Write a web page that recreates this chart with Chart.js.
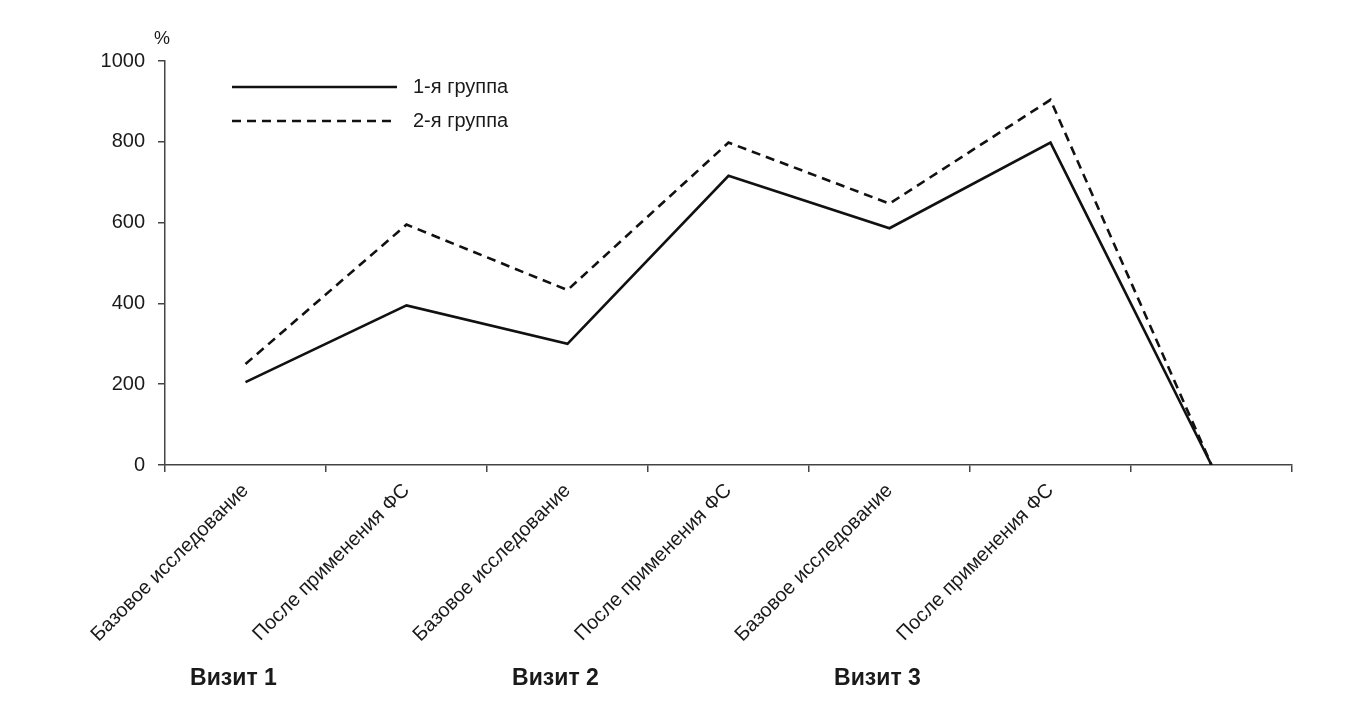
<!DOCTYPE html>
<html>
<head>
<meta charset="utf-8">
<script src="https://cdn.jsdelivr.net/npm/chart.js@4"></script>
<style>
  html, body { margin: 0; padding: 0; background: #fff; }
  #wrap { width: 1370px; height: 715px; }
</style>
</head>
<body>
<div id="wrap"><canvas id="chart"></canvas></div>
<script>
const categories = [
    "Базовое исследование",
    "После применения ФС",
    "Базовое исследование",
    "После применения ФС",
    "Базовое исследование",
    "После применения ФС",
    "",
];
const group1 = [205, 395, 300, 716, 586, 798, 0];
const group2 = [250, 595, 433, 798, 647, 904, 0];
const seriesNames = ["1-я группа", "2-я группа"];
const visits = ["Визит 1", "Визит 2", "Визит 3"];
const yTicks = [0, 200, 400, 600, 800, 1000];

const FONT = "'Liberation Sans', Arial, sans-serif";
const INK = "#1a1a1a";

// legend drawn inside the plot, top-left
const insideLegend = {
    id: "insideLegend",
    afterDatasetsDraw(chart) {
        const { ctx, chartArea } = chart;
        ctx.save();
        chart.data.datasets.forEach((ds, i) => {
            const y = chartArea.top + 26 + i * 34;
            const x0 = chartArea.left + 67;
            ctx.strokeStyle = ds.borderColor;
            ctx.lineWidth = ds.borderWidth;
            ctx.setLineDash(ds.borderDash || []);
            ctx.beginPath();
            ctx.moveTo(x0, y);
            ctx.lineTo(x0 + 165, y);
            ctx.stroke();
            ctx.setLineDash([]);
            ctx.fillStyle = INK;
            ctx.font = `20px ${FONT}`;
            ctx.textBaseline = "middle";
            ctx.textAlign = "left";
            ctx.fillText(ds.label, x0 + 181, y);
        });
        ctx.restore();
    },
};

// "%" unit and visit captions under the category pairs
const extraText = {
    id: "extraText",
    afterDraw(chart) {
        const { ctx, chartArea, scales } = chart;
        ctx.save();
        ctx.fillStyle = INK;
        ctx.font = `18px ${FONT}`;
        ctx.textAlign = "center";
        ctx.textBaseline = "middle";
        ctx.fillText("%", chartArea.left - 3, chartArea.top - 22);

        ctx.font = `bold 23px ${FONT}`;
        visits.forEach((v, k) => {
            const x = scales.x.getPixelForValue(k * 2) - 12;
            ctx.fillText(v, x, 679);
        });
        ctx.restore();
    },
};

new Chart(document.getElementById("chart"), {
    type: "line",
    data: {
        labels: categories,
        datasets: [
            {
                label: seriesNames[0],
                data: group1,
                borderColor: "#111",
                borderWidth: 2.6,
                pointRadius: 0,
                tension: 0,
            },
            {
                label: seriesNames[1],
                data: group2,
                borderColor: "#111",
                borderWidth: 2.6,
                borderDash: [9, 6],
                pointRadius: 0,
                tension: 0,
            },
        ],
    },
    options: {
        responsive: true,
        maintainAspectRatio: false,
        animation: false,
        layout: {
            padding: { left: 0, top: 61, right: 78, bottom: 0 },
        },
        plugins: {
            legend: { display: false },
            tooltip: { enabled: false },
        },
        scales: {
            x: {
                offset: true,
                afterFit: (scale) => { scale.height = 250; },
                border: { color: "#444", width: 1.5 },
                grid: {
                    offset: true,
                    drawOnChartArea: false,
                    tickLength: 7,
                    color: "#444",
                    lineWidth: 1.5,
                },
                ticks: {
                    autoSkip: false,
                    minRotation: 45,
                    maxRotation: 45,
                    padding: 7,
                    color: INK,
                    font: { family: FONT, size: 20 },
                },
            },
            y: {
                min: 0,
                max: 1000,
                afterFit: (scale) => { scale.width = 165; },
                afterBuildTicks: (scale) => {
                    scale.ticks = yTicks.map((v) => ({ value: v }));
                },
                border: { color: "#444", width: 1.5 },
                grid: {
                    drawOnChartArea: false,
                    tickLength: 7,
                    color: "#444",
                    lineWidth: 1.5,
                },
                ticks: {
                    padding: 13,
                    color: INK,
                    font: { family: FONT, size: 20 },
                    callback: (value) => String(value),
                },
            },
        },
    },
    plugins: [insideLegend, extraText],
});
</script>
</body>
</html>
